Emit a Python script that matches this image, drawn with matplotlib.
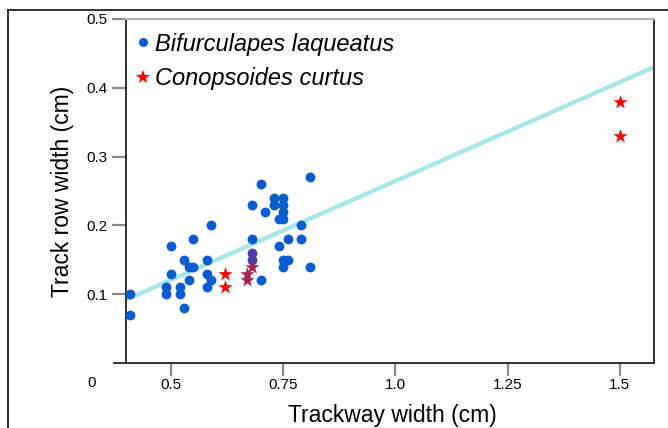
"""
Track row width vs trackway width.
"""
import matplotlib
matplotlib.use("Agg")
import matplotlib.pyplot as plt
from matplotlib.lines import Line2D

plt.rcParams['font.family'] = ['Liberation Sans', 'DejaVu Sans']

# Bifurculapes laqueatus
bif_x = [0.41, 0.41, 0.49, 0.49, 0.50, 0.50, 0.52, 0.52, 0.53, 0.53,
         0.54, 0.54, 0.55, 0.55, 0.58, 0.58, 0.58, 0.59, 0.59,
         0.68, 0.70, 0.68, 0.70, 0.71, 0.73, 0.73,
         0.75, 0.75, 0.75, 0.75, 0.74, 0.74, 0.75, 0.75, 0.76, 0.76,
         0.79, 0.79, 0.81, 0.81]
bif_y = [0.10, 0.07, 0.11, 0.10, 0.13, 0.17, 0.11, 0.10, 0.08, 0.15,
         0.14, 0.12, 0.14, 0.18, 0.15, 0.13, 0.11, 0.12, 0.20,
         0.23, 0.26, 0.18, 0.12, 0.22, 0.24, 0.23,
         0.24, 0.23, 0.22, 0.21, 0.21, 0.17, 0.15, 0.14, 0.15, 0.18,
         0.20, 0.18, 0.27, 0.14]
# points where the two species overlap (drawn blended)
bif_mix_x = [0.68, 0.68]
bif_mix_y = [0.16, 0.15]

# Conopsoides curtus
con_x = [0.62, 0.62, 1.50, 1.50]
con_y = [0.13, 0.11, 0.38, 0.33]
con_mix_x = [0.67, 0.68, 0.67]
con_mix_y = [0.13, 0.14, 0.12]

# trend line
slope = 0.2875
intercept = -0.023

x_ticks = [0.5, 0.75, 1.0, 1.25, 1.5]
x_labels = ['0.5', '0.75', '1.0', '1.25', '1.5']
y_ticks = [0.1, 0.2, 0.3, 0.4, 0.5]
y_labels = ['0.1', '0.2', '0.3', '0.4', '0.5']

BLUE = '#0a5ad2'
RED = '#ff0000'

fig = plt.figure(figsize=(6.68, 4.28), dpi=100)
ax = fig.add_axes([126 / 668, 65 / 428, 528 / 668, 344 / 428])
xmin, xmax = 0.4, 1.576
ax.set_xlim(xmin, xmax)
ax.set_ylim(0, 0.5)

ax.plot([xmin, xmax], [intercept + slope * xmin, intercept + slope * xmax],
        color='#a8e6e6', lw=3.2, solid_capstyle='butt', zorder=1)

ax.scatter(bif_x, bif_y, s=50, marker='o', color=BLUE, linewidths=0, zorder=3)
ax.scatter(bif_mix_x, bif_mix_y, s=50, marker='o', color='#4b3ca6', linewidths=0, zorder=3)
ax.scatter(con_x, con_y, s=115, marker='*', color=RED, linewidths=0, zorder=4)
ax.scatter(con_mix_x, con_mix_y, s=115, marker='*', color='#a61e52', linewidths=0, zorder=4)

ax.set_xticks(x_ticks)
ax.set_xticklabels(x_labels)
ax.set_yticks(y_ticks)
ax.set_yticklabels(y_labels)
ax.tick_params(axis='both', labelsize=11, color='#8a8a8a', width=1.6)
ax.tick_params(axis='x', length=9.5, pad=1)
ax.tick_params(axis='y', length=10, pad=3)

for side in ['left', 'right']:
    ax.spines[side].set_color('#222222')
    ax.spines[side].set_linewidth(1.3)
ax.spines['top'].set_color('#b0b0b0')
ax.spines['top'].set_linewidth(1.5)
ax.spines['bottom'].set_visible(False)
# bottom axis line runs a bit past the left spine
ax.add_line(Line2D([-0.023, 1.0], [0, 0], transform=ax.transAxes, color='#222222',
                   lw=1.3, clip_on=False))

ax.set_xlabel('Trackway width (cm)', fontsize=16.5)
ax.xaxis.set_label_coords(0.504, -0.152)
ax.xaxis.label.set_va('center')
ax.set_ylabel('Track row width (cm)', fontsize=16.5)
ax.yaxis.set_label_coords(-0.12, 0.5)
ax.yaxis.label.set_va('center')

fig.text(92 / 668, 1 - 383 / 428, '0', fontsize=11, ha='center', va='center')

handles = [
    Line2D([], [], marker='o', ls='', color=BLUE, markersize=6.5, markeredgewidth=0),
    Line2D([], [], marker='*', ls='', color=RED, markersize=10, markeredgewidth=0),
]
ax.legend(handles, ['Bifurculapes laqueatus', 'Conopsoides curtus'],
          loc='upper left', bbox_to_anchor=(0.019, 0.96), frameon=False,
          borderaxespad=0, borderpad=0, handlelength=0.6, handletextpad=0.2,
          labelspacing=0.47, prop={'size': 17, 'style': 'italic'})

# outer frame (top and left)
fig.add_artist(Line2D([8 / 668, 1.0], [1 - 10 / 428, 1 - 10 / 428], color='#222222', lw=1.3))
fig.add_artist(Line2D([8 / 668, 8 / 668], [0, 1 - 10 / 428], color='#222222', lw=1.3))

fig.savefig('out.png', dpi=100)
